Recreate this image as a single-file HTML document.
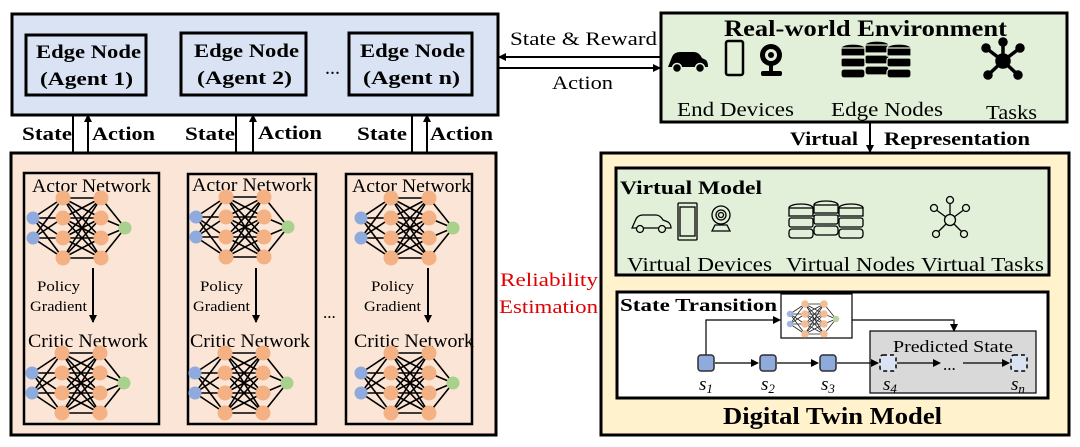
<!DOCTYPE html>
<html><head><meta charset="utf-8"><style>
html,body{margin:0;padding:0;background:#fff;}
svg{display:block;}
text{font-family:"Liberation Serif",serif;fill:#000;}
.b{font-weight:bold;}
</style></head><body>
<svg width="1080" height="447" viewBox="0 0 1080 447" xmlns="http://www.w3.org/2000/svg">
<defs>
<marker id="ah" markerWidth="8" markerHeight="8" refX="7" refY="4" orient="auto" markerUnits="userSpaceOnUse"><path d="M0,0 L8,4 L0,8 z" fill="#000"/></marker>
<g id="nn">
<g stroke="#000" stroke-width="1.6">
<path d="M0,20L30,0M0,20L30,20M0,20L30,40M0,20L30,60M0,40L30,0M0,40L30,20M0,40L30,40M0,40L30,60"/>
<path d="M30,0L68,0M30,0L68,20M30,0L68,40M30,0L68,60M30,20L68,0M30,20L68,20M30,20L68,40M30,20L68,60M30,40L68,0M30,40L68,20M30,40L68,40M30,40L68,60M30,60L68,0M30,60L68,20M30,60L68,40M30,60L68,60"/>
<path d="M68,0L92,30M68,20L92,30M68,40L92,30M68,60L92,30"/>
</g>
<g fill="#f4b183"><circle cx="30" cy="0" r="7.5"/><circle cx="30" cy="20" r="7.5"/><circle cx="30" cy="40" r="7.5"/><circle cx="30" cy="60" r="7.5"/><circle cx="68" cy="0" r="7.5"/><circle cx="68" cy="20" r="7.5"/><circle cx="68" cy="40" r="7.5"/><circle cx="68" cy="60" r="7.5"/></g>
<circle cx="0" cy="20" r="6.5" fill="#8faadc"/><circle cx="0" cy="40" r="6.5" fill="#8faadc"/>
<circle cx="92" cy="30" r="6.5" fill="#a9d18e"/>
</g>
<g id="db"><ellipse cx="0" cy="0" rx="12" ry="4"/><rect x="-12" y="0" width="24" height="8"/><rect x="-12" y="10" width="24" height="9" rx="2"/><rect x="-12" y="21" width="24" height="9" rx="3"/></g>
</defs>

<rect x="12" y="14" width="486" height="101" fill="#dae3f3" stroke="#000" stroke-width="3"/>
<rect x="26" y="35" width="120" height="60" fill="#dae3f3" stroke="#000" stroke-width="3"/>
<rect x="181" y="33" width="125" height="62" fill="#dae3f3" stroke="#000" stroke-width="3"/>
<rect x="349" y="33" width="123" height="62" fill="#dae3f3" stroke="#000" stroke-width="3"/>
<g font-size="19" lengthAdjust="spacingAndGlyphs">
<text x="36" y="58" class="b" textLength="105" lengthAdjust="spacingAndGlyphs">Edge Node</text><text x="40" y="85" class="b" textLength="93" lengthAdjust="spacingAndGlyphs">(Agent 1)</text>
<text x="194" y="57" class="b" textLength="105" lengthAdjust="spacingAndGlyphs">Edge Node</text><text x="197" y="84" class="b" textLength="95" lengthAdjust="spacingAndGlyphs">(Agent 2)</text>
<text x="360" y="57" class="b" textLength="105" lengthAdjust="spacingAndGlyphs">Edge Node</text><text x="363" y="84" class="b" textLength="97" lengthAdjust="spacingAndGlyphs">(Agent n)</text>
</g>
<text x="325" y="74" font-size="20">...</text>

<g font-size="19">
<text x="22" y="140" class="b" textLength="50" lengthAdjust="spacingAndGlyphs">State</text><text x="92" y="140" class="b" textLength="63" lengthAdjust="spacingAndGlyphs">Action</text>
<text x="185" y="140" class="b" textLength="50" lengthAdjust="spacingAndGlyphs">State</text><text x="258" y="139" class="b" textLength="64" lengthAdjust="spacingAndGlyphs">Action</text>
<text x="357" y="140" class="b" textLength="50" lengthAdjust="spacingAndGlyphs">State</text><text x="430" y="140" class="b" textLength="63" lengthAdjust="spacingAndGlyphs">Action</text>
</g>
<g stroke="#000" stroke-width="2" marker-end="url(#ah)">
<line x1="73" y1="115" x2="73" y2="172"/><line x1="88" y1="172" x2="88" y2="115"/>
<line x1="236" y1="115" x2="236" y2="172"/><line x1="253" y1="172" x2="253" y2="115"/>
<line x1="412" y1="115" x2="412" y2="172"/><line x1="427" y1="172" x2="427" y2="115"/>
</g>

<rect x="11" y="153" width="485" height="282" fill="#fbe5d6" stroke="#000" stroke-width="3"/>
<g fill="#fbe5d6" stroke="#000" stroke-width="2.5">
<rect x="24" y="173" width="135" height="251"/><rect x="188" y="174" width="128" height="250"/><rect x="346" y="174" width="126" height="250"/>
</g>
<g font-size="19">
<text x="32" y="192" textLength="119" lengthAdjust="spacingAndGlyphs">Actor Network</text><text x="192" y="191" textLength="120" lengthAdjust="spacingAndGlyphs">Actor Network</text><text x="352" y="192" textLength="119" lengthAdjust="spacingAndGlyphs">Actor Network</text>
<text x="28" y="347" textLength="120" lengthAdjust="spacingAndGlyphs">Critic Network</text><text x="190" y="347" textLength="120" lengthAdjust="spacingAndGlyphs">Critic Network</text><text x="354" y="347" textLength="120" lengthAdjust="spacingAndGlyphs">Critic Network</text>
</g>
<g font-size="15">
<text x="37" y="291" textLength="43" lengthAdjust="spacingAndGlyphs">Policy</text><text x="30" y="311" textLength="57" lengthAdjust="spacingAndGlyphs">Gradient</text>
<text x="200" y="291" textLength="43" lengthAdjust="spacingAndGlyphs">Policy</text><text x="193" y="311" textLength="57" lengthAdjust="spacingAndGlyphs">Gradient</text>
<text x="371" y="291" textLength="43" lengthAdjust="spacingAndGlyphs">Policy</text><text x="364" y="311" textLength="57" lengthAdjust="spacingAndGlyphs">Gradient</text>
</g>
<g stroke="#000" stroke-width="2" marker-end="url(#ah)">
<line x1="93" y1="268" x2="93" y2="322"/><line x1="256" y1="268" x2="256" y2="322"/><line x1="428" y1="268" x2="428" y2="322"/>
</g>
<use href="#nn" x="33" y="198"/><use href="#nn" x="196" y="197"/><use href="#nn" x="361" y="198"/>
<use href="#nn" x="32" y="353"/><use href="#nn" x="195" y="353"/><use href="#nn" x="361" y="353"/>
<text x="323" y="318" font-size="17">...</text>

<text x="500" y="286" font-size="19" style="fill:#e00000" textLength="98" lengthAdjust="spacingAndGlyphs">Reliability</text>
<text x="499" y="313" font-size="19" style="fill:#e00000" textLength="99" lengthAdjust="spacingAndGlyphs">Estimation</text>

<line x1="660" y1="57" x2="499" y2="57" stroke="#000" stroke-width="2" marker-end="url(#ah)"/>
<line x1="499" y1="68" x2="660" y2="68" stroke="#000" stroke-width="2" marker-end="url(#ah)"/>
<text x="510" y="45" font-size="19" textLength="147" lengthAdjust="spacingAndGlyphs">State &amp; Reward</text>
<text x="552" y="89" font-size="19" textLength="61" lengthAdjust="spacingAndGlyphs">Action</text>

<rect x="661" y="13" width="406" height="109" fill="#e2f0d9" stroke="#000" stroke-width="3"/>
<text x="724" y="36" font-size="23" class="b" textLength="283" lengthAdjust="spacingAndGlyphs">Real-world Environment</text>
<path d="M668,67 L672,57 Q674,52 680,52 L694,52 Q699,52 702,58 L706,60 Q708,62 708,67 Z" fill="#000"/>
<circle cx="677" cy="68" r="4.5" fill="#000" stroke="#e2f0d9" stroke-width="1.5"/><circle cx="700" cy="68" r="4.5" fill="#000" stroke="#e2f0d9" stroke-width="1.5"/>
<rect x="726" y="41" width="17" height="34" rx="2" fill="none" stroke="#000" stroke-width="2.5"/>
<circle cx="771" cy="55" r="11" fill="#000"/><circle cx="771" cy="55" r="6" fill="#e2f0d9"/><circle cx="771" cy="55" r="3" fill="#000"/><rect x="761" y="71" width="21" height="5" rx="2" fill="#000"/><rect x="769" y="65" width="4" height="7" fill="#000"/>
<g fill="#000" stroke="#e2f0d9" stroke-width="1.2"><use href="#db" x="853" y="48"/><use href="#db" x="877" y="45"/><use href="#db" x="899" y="48"/></g>
<g stroke="#000" stroke-width="3.5" fill="#000"><line x1="1003" y1="61" x2="986" y2="48"/><line x1="1003" y1="61" x2="1020" y2="48"/><line x1="1003" y1="61" x2="1003" y2="42"/><line x1="1003" y1="61" x2="988" y2="75"/><line x1="1003" y1="61" x2="1018" y2="75"/><circle cx="1003" cy="61" r="6"/><circle cx="986" cy="48" r="3"/><circle cx="1020" cy="48" r="3"/><circle cx="1003" cy="42" r="3"/><circle cx="988" cy="75" r="3"/><circle cx="1018" cy="75" r="3"/></g>
<g font-size="20"><text x="677" y="116" textLength="117" lengthAdjust="spacingAndGlyphs">End Devices</text><text x="831" y="116" textLength="112" lengthAdjust="spacingAndGlyphs">Edge Nodes</text><text x="986" y="119" textLength="51" lengthAdjust="spacingAndGlyphs">Tasks</text></g>

<text x="790" y="145" font-size="19" class="b" textLength="68" lengthAdjust="spacingAndGlyphs">Virtual</text><text x="884" y="145" font-size="19" class="b" textLength="146" lengthAdjust="spacingAndGlyphs">Representation</text>
<line x1="870" y1="123" x2="870" y2="152" stroke="#000" stroke-width="2" marker-end="url(#ah)"/>

<rect x="601" y="153" width="468" height="282" fill="#fff2cc" stroke="#000" stroke-width="3"/>
<rect x="616" y="168" width="433" height="107" fill="#e2f0d9" stroke="#000" stroke-width="3"/>
<text x="620" y="194" font-size="19" class="b" textLength="142" lengthAdjust="spacingAndGlyphs">Virtual Model</text>
<g fill="none" stroke="#000" stroke-width="1.3">
<path d="M632,228 L636,219 Q638,215 643,215 L656,215 Q660,215 663,220 L668,222 Q671,224 671,228 Z"/>
<circle cx="640" cy="229" r="3.5" fill="#e2f0d9"/><circle cx="662" cy="229" r="3.5" fill="#e2f0d9"/>
<rect x="678" y="203" width="19" height="37" rx="1"/><rect x="680" y="207" width="15" height="29"/>
<circle cx="721" cy="215" r="9"/><circle cx="721" cy="215" r="5"/><circle cx="721" cy="215" r="2.5"/><path d="M712,231 L730,231 L727,225 L715,225 Z"/>
<g fill="#e2f0d9"><use href="#db" x="801" y="208"/><use href="#db" x="826" y="205"/><use href="#db" x="851" y="208"/></g>
<line x1="950" y1="220" x2="950" y2="202"/><line x1="950" y1="220" x2="935" y2="209"/><line x1="950" y1="220" x2="965" y2="209"/><line x1="950" y1="220" x2="937" y2="233"/><line x1="950" y1="220" x2="963" y2="233"/>
<circle cx="950" cy="220" r="5.5" fill="#e2f0d9"/><circle cx="950" cy="200" r="3.5" fill="#e2f0d9"/><circle cx="934" cy="208" r="3.5" fill="#e2f0d9"/><circle cx="966" cy="208" r="3.5" fill="#e2f0d9"/><circle cx="936" cy="234" r="3.5" fill="#e2f0d9"/><circle cx="964" cy="234" r="3.5" fill="#e2f0d9"/>
</g>
<g font-size="20"><text x="627" y="271" textLength="145" lengthAdjust="spacingAndGlyphs">Virtual Devices</text><text x="786" y="271" textLength="129" lengthAdjust="spacingAndGlyphs">Virtual Nodes</text><text x="921" y="271" textLength="123" lengthAdjust="spacingAndGlyphs">Virtual Tasks</text></g>

<rect x="617" y="292" width="431" height="106" fill="#fff" stroke="#000" stroke-width="3"/>
<text x="620" y="311" font-size="18" class="b" textLength="157" lengthAdjust="spacingAndGlyphs">State Transition</text>
<rect x="781" y="294" width="71" height="44" fill="#fff" stroke="#000" stroke-width="1.2"/>
<g transform="translate(790,298) scale(0.5)"><use href="#nn" x="0" y="12" opacity="0.85"/></g>
<rect x="870" y="331" width="166" height="62" fill="#d9d9d9" stroke="#000" stroke-width="1.2"/>
<text x="893" y="352" font-size="17" textLength="120" lengthAdjust="spacingAndGlyphs">Predicted State</text>
<g stroke="#000" stroke-width="1.2" fill="none">
<path d="M706,358 L706,320 L780,320" marker-end="url(#ah)"/>
<path d="M852,320 L954,320 L954,331" marker-end="url(#ah)"/>
<line x1="715" y1="363" x2="758" y2="363" marker-end="url(#ah)"/>
<line x1="777" y1="363" x2="818" y2="363" marker-end="url(#ah)"/>
<line x1="837" y1="363" x2="878" y2="363" marker-end="url(#ah)"/>
<line x1="897" y1="363" x2="940" y2="363" marker-end="url(#ah)"/>
<line x1="963" y1="363" x2="1009" y2="363" marker-end="url(#ah)"/>
</g>
<g fill="#8faadc" stroke="#2f2f2f" stroke-width="1.5"><rect x="698" y="355" width="16" height="16" rx="3"/><rect x="760" y="355" width="16" height="16" rx="3"/><rect x="820" y="355" width="16" height="16" rx="3"/></g>
<g fill="#dae3f3" stroke="#000" stroke-width="1.5" stroke-dasharray="4,3"><rect x="880" y="355" width="16" height="16" rx="3"/><rect x="1011" y="355" width="16" height="16" rx="3"/></g>
<text x="943" y="370" font-size="17">...</text>
<g font-size="19" font-style="italic"><text x="699" y="390">s<tspan font-size="13" dy="3">1</tspan></text><text x="761" y="390">s<tspan font-size="13" dy="3">2</tspan></text><text x="821" y="390">s<tspan font-size="13" dy="3">3</tspan></text><text x="883" y="390">s<tspan font-size="13" dy="3">4</tspan></text><text x="1011" y="390">s<tspan font-size="13" dy="3">n</tspan></text></g>
<text x="723" y="424" font-size="24" class="b" textLength="219" lengthAdjust="spacingAndGlyphs">Digital Twin Model</text>
</svg>
</body></html>
